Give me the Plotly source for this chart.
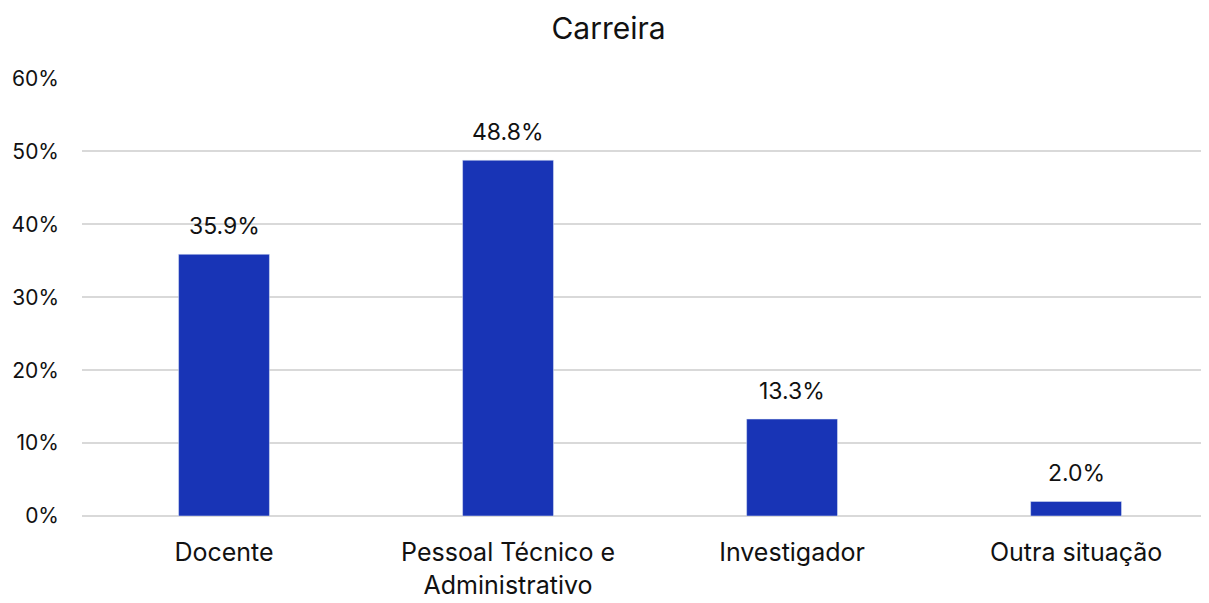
import plotly.graph_objects as go

categories = ["Docente", "Pessoal Técnico e<br>Administrativo", "Investigador", "Outra situação"]
values = [0.359, 0.488, 0.133, 0.020]
labels = ["35.9%", "48.8%", "13.3%", "2.0%"]
tick_vals = [0, 0.1, 0.2, 0.3, 0.4, 0.5, 0.6]
tick_text = ["0%", "10%", "20%", "30%", "40%", "50%", "60%"]

xs = list(range(len(categories)))

fig = go.Figure(go.Bar(
    x=xs,
    y=values,
    width=0.32,
    marker_color="#1834B6",
    hoverinfo="skip",
))

for x, v, t in zip(xs, values, labels):
    fig.add_annotation(x=x, y=v, text=t, showarrow=False, yanchor="bottom",
                       yshift=12, font=dict(size=23, color="#111111"))

fig.update_layout(
    width=1201, height=595,
    margin=dict(l=74, r=0, t=70, b=87),
    paper_bgcolor="white", plot_bgcolor="white",
    font=dict(family="Inter, Open Sans, sans-serif", color="#111111"),
    title=dict(text="Carreira", x=0.5, xanchor="center", y=0.965, yanchor="middle",
               font=dict(size=30, color="#111111")),
    showlegend=False,
)
fig.update_xaxes(
    tickmode="array", tickvals=xs, ticktext=categories,
    range=[-0.5, 3.468], showgrid=False, showline=False, zeroline=False,
    tickfont=dict(size=25, color="#111111"), ticklabelstandoff=19,
)
fig.update_yaxes(
    range=[0, 0.6008], tickmode="array", tickvals=tick_vals, ticktext=tick_text,
    showgrid=True, gridcolor="#d9d9d9", gridwidth=1.5,
    zeroline=True, zerolinecolor="#d9d9d9", zerolinewidth=1.5,
    showline=False, tickfont=dict(size=21, color="#111111"), ticklabelstandoff=22,
)

fig.write_html("out.html")
